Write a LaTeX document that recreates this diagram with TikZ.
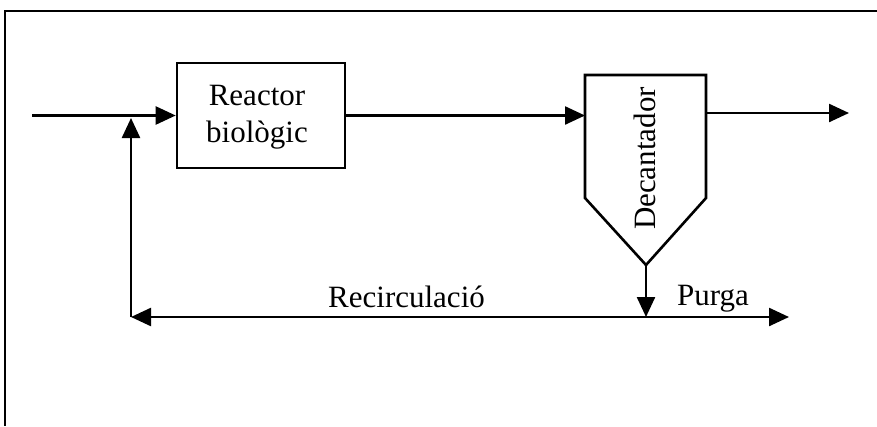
\documentclass[tikz,border=0pt]{standalone}
\usepackage{fontspec}
\setmainfont{Liberation Serif}
\usetikzlibrary{arrows.meta}
\begin{document}
\begin{tikzpicture}[x=1pt,y=-1pt,
  frame/.style={line width=1.3pt},
  flow/.style={line width=2.4pt,-{Triangle[length=20pt,width=18pt]}},
  plain/.style={line width=2.6pt},
  box/.style={draw,line width=2.6pt,minimum width=168pt,minimum height=105pt,inner sep=0pt},
  lbl/.style={font=\fontsize{31}{37}\selectfont,inner sep=0pt}]
\useasboundingbox (0,0) rectangle (877,426);
\draw[frame] (877,11) -- (5,11) -- (5,426);
% reactor
\node[box] (reactor) at (261,115.5) {};
\node[lbl,anchor=base,align=center] (rtext) at (257,142) {Reactor\\biològic};
% decanter
\coordinate (dtl) at (585,75);
\coordinate (dtr) at (706,75);
\coordinate (dmr) at (706,198);
\coordinate (dbot) at (646,265);
\coordinate (dml) at (585,198);
\draw[plain,line join=miter] (dtl) -- (dtr) -- (dmr) -- (dbot) -- (dml) -- cycle;
\node[lbl,rotate=90,anchor=base] (dtext) at (655,158.5) {Decantador};
\coordinate (din) at (585,115.5);
\coordinate (dout) at (706,113);
\coordinate (outend) at (849,113);
% input
\coordinate (in) at (32,115.5);
\draw[flow] (in) -- (reactor.west);
\draw[flow] (reactor.east) -- (din);
\draw[flow] (dout) -- (outend);
% bottom
\coordinate (pj) at (646,317);
\coordinate (rbl) at (131,317);
\coordinate (rtip) at (131,118);
\coordinate (pend) at (789,317);
\draw[flow] (dbot) -- (pj);
\draw[flow] (pj) -- (rbl);
\draw[flow] (rbl) -- (rtip);
\draw[flow] (pj) -- (pend);
\node[lbl,anchor=base west] (rec) at (328,307) {Recirculació};
\node[lbl,anchor=base west] (pur) at (677,305) {Purga};
\end{tikzpicture}
\end{document}
